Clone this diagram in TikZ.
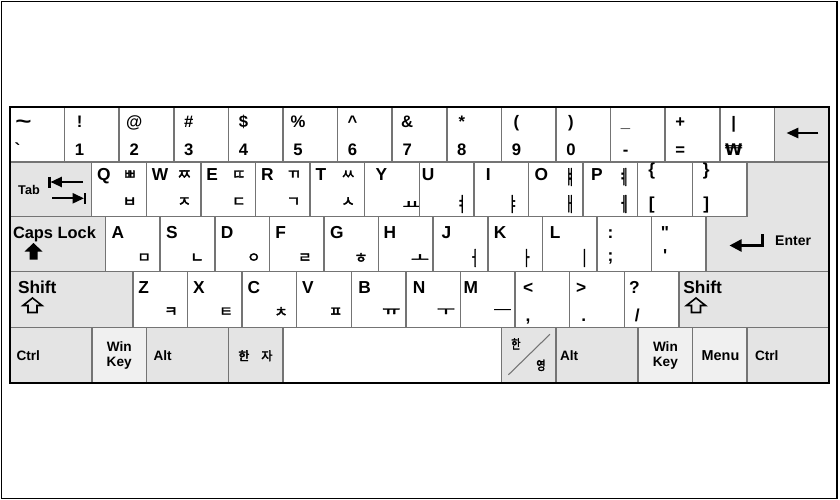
\documentclass[tikz,border=0pt]{standalone}
\usepackage{fontspec}
\usepackage{graphicx}
\setmainfont{Liberation Sans}
\newfontfamily\plainf{Liberation Sans}
\newfontfamily\kr{Noto Sans CJK KR}[FakeBold=2.5]
\newfontfamily\djf{DejaVu Sans}
\usetikzlibrary{arrows.meta}
\definecolor{keygray}{HTML}{E4E4E4}
\definecolor{keylight}{HTML}{F0F0F0}
\definecolor{keyline}{HTML}{747474}
\tikzset{
  key/.style={draw=keyline,line width=1.1pt,fill=white,anchor=north west,inner sep=0pt,outer sep=0pt},
  gkey/.style={key,fill=keygray},
  lkey/.style={key,fill=keylight},
  lbl/.style={inner sep=0pt,outer sep=0pt,text=black},
  num/.style={lbl,anchor=base,font=\bfseries\fontsize{12.5}{12.5}\selectfont},
  ltr/.style={lbl,anchor=base west,font=\bfseries\fontsize{13}{13}\selectfont},
  sym/.style={lbl,anchor=base,font=\bfseries\fontsize{13}{13}\selectfont},
  jm/.style={lbl,anchor=center,font=\kr\fontsize{11}{11}\selectfont},
  vw/.style={lbl,anchor=center,font=\kr\fontsize{15}{15}\selectfont},
  hv/.style={lbl,anchor=center,font=\kr\fontsize{15}{15}\selectfont},
  modl/.style={lbl,anchor=west,font=\bfseries\fontsize{10.2}{12.75}\selectfont},
  modc/.style={lbl,anchor=center,font=\bfseries\fontsize{10.2}{12.75}\selectfont},
  big/.style={lbl,anchor=base west,font=\bfseries\fontsize{13}{13}\selectfont},
  icon/.style={line width=1.6pt,black},
}
\newcommand\K[6][key]{\node[#1,minimum width=#5*0.75pt,minimum height=#6*0.75pt] (#2) at (#3,#4) {};}
\newcommand\Lb[5]{\node[#1] (#2) at ([shift={(#4)}]#3.north west) {#5};}
\newcommand\NV[1]{\scalebox{0.55}[1]{#1}}
\newcommand\FH[1]{\scalebox{1}[0.6]{#1}}
\begin{document}
\begin{tikzpicture}[x=0.75pt,y=-0.75pt]
\useasboundingbox (0,0) rectangle (840,500);
\node[draw=black,line width=0.8pt,anchor=north west,inner sep=0pt,outer sep=0pt,minimum width=835.8*0.75pt,minimum height=497*0.75pt] (frame) at (1.2,1.2) {};

% ---------- row 1 ----------
\K{r1k0}{10}{107}{54.6}{55}
\Lb{sym}{r1k0-t}{r1k0}{13.5,21}{\scalebox{1.6}[1.2]{\textasciitilde}}
\Lb{sym}{r1k0-b}{r1k0}{7.5,48}{{\plainf\bfseries\symbol{96}}}
\foreach \i/\t/\b in {1/!/1,2/@/2,3/\#/3,4/\$/4,5/\%/5,6/\textasciicircum/6,7/\&/7,8/*/8,9/(/9,10/)/0,11/\_/-,12/+/=}{
  \K{r1k\i}{10+54.6*\i}{107}{54.6}{55}
  \Lb{num}{r1k\i-t}{r1k\i}{15,20}{\t}
  \Lb{num}{r1k\i-b}{r1k\i}{15,48}{\b}
}
\K{r1k13}{719.8}{107}{54.6}{55}
\Lb{num}{r1k13-t}{r1k13}{14,21}{|}
\Lb{num}{r1k13-b}{r1k13}{14,48}{{\djf\bfseries\fontsize{12}{12}\selectfont ₩}}
\K[gkey]{bksp}{774.4}{107}{54.6}{55}
\draw[line width=2pt,-{Triangle[length=9pt,width=7.5pt]}] ([shift={(44,26)}]bksp.north west) -- ([shift={(12,26)}]bksp.north west);

% ---------- row 2 ----------
\K[gkey]{tab}{10}{162}{81.7}{54.7}
\Lb{lbl}{tab-l}{tab}{19,28}{\bfseries\fontsize{9.5}{9.5}\selectfont Tab}
\draw[icon,-{Triangle[length=8.5pt,width=7.5pt]}] (83,182) -- (50.5,182);
\draw[icon] (49.5,176.5) -- (49.5,187.5);
\draw[icon,-{Triangle[length=8.5pt,width=7.5pt]}] (52,198.3) -- (84,198.3);
\draw[icon] (85,193) -- (85,204);
\foreach \i/\l/\t/\b in {0/Q/ㅃ/ㅂ,1/W/ㅉ/ㅈ,2/E/ㄸ/ㄷ,3/R/ㄲ/ㄱ,4/T/ㅆ/ㅅ}{
  \K{r2k\i}{91.7+54.6*\i}{162}{54.6}{54.7}
  \Lb{ltr}{r2k\i-l}{r2k\i}{5.5,18}{\l}
  \Lb{jm}{r2k\i-t}{r2k\i}{38,13}{\t}
  \Lb{jm}{r2k\i-b}{r2k\i}{38,40}{\b}
}
\K{r2k5}{364.7}{162}{54.6}{54.7}
\Lb{ltr}{r2k5-l}{r2k5}{11,18}{Y}
\Lb{hv}{r2k5-b}{r2k5}{47,43}{\FH{ㅛ}}
\K{r2k6}{419.3}{162}{54.6}{54.7}
\Lb{ltr}{r2k6-l}{r2k6}{2.5,18}{U}
\Lb{vw}{r2k6-b}{r2k6}{42,42}{\NV{ㅕ}}
\K{r2k7}{473.9}{162}{54.6}{54.7}
\Lb{ltr}{r2k7-l}{r2k7}{12,18}{I}
\Lb{vw}{r2k7-b}{r2k7}{39,42}{\NV{ㅑ}}
\K{r2k8}{528.5}{162}{54.6}{54.7}
\Lb{ltr}{r2k8-l}{r2k8}{6,18}{O}
\Lb{vw}{r2k8-t}{r2k8}{41.5,15}{\NV{ㅒ}}
\Lb{vw}{r2k8-b}{r2k8}{41.5,42}{\NV{ㅐ}}
\K{r2k9}{583.1}{162}{54.6}{54.7}
\Lb{ltr}{r2k9-l}{r2k9}{8,18}{P}
\Lb{vw}{r2k9-t}{r2k9}{41,15}{\NV{ㅖ}}
\Lb{vw}{r2k9-b}{r2k9}{41,42}{\NV{ㅔ}}
\K{r2k10}{637.7}{162}{54.6}{54.7}
\Lb{sym}{r2k10-t}{r2k10}{14,13.5}{\{}
\Lb{sym}{r2k10-b}{r2k10}{14,47}{[}
\K{r2k11}{692.3}{162}{54.6}{54.7}
\Lb{sym}{r2k11-t}{r2k11}{14,13.5}{\}}
\Lb{sym}{r2k11-b}{r2k11}{14,47}{]}

% ---------- enter ----------
\filldraw[fill=keygray,draw=keyline,line width=1.1pt] (746.9,162) -- (829,162) -- (829,271.7) -- (706.2,271.7) -- (706.2,216.7) -- (746.9,216.7) -- cycle;
\coordinate (enter) at (706.2,216.7);
\Lb{lbl,anchor=base west}{enter-l}{enter}{69,28.3}{\bfseries\fontsize{10.5}{10.5}\selectfont Enter}
\draw[line width=1.8pt,-{Triangle[length=9pt,width=9pt]}] (762.5,234) -- (762.5,245.5) -- (729.5,245.5);

% ---------- row 3 ----------
\K[gkey]{caps}{10}{216.7}{95.6}{55}
\Lb{lbl,anchor=base west}{caps-l}{caps}{3,21.3}{\bfseries\fontsize{12.3}{12.3}\selectfont Caps Lock}
\fill[black] (33.5,243) -- (42.5,251.5) -- (37.5,251.5) -- (37.5,259.5) -- (29.5,259.5) -- (29.5,251.5) -- (24.5,251.5) -- cycle;
\foreach \i/\l/\j/\jx in {0/A/ㅁ/38.5,1/S/ㄴ/37,2/D/ㅇ/39,3/F/ㄹ/35.5,4/G/ㅎ/37}{
  \K{r3k\i}{105.6+54.6*\i}{216.7}{54.6}{55}
  \Lb{ltr}{r3k\i-l}{r3k\i}{6,21.3}{\l}
  \Lb{jm}{r3k\i-j}{r3k\i}{\jx,41.3}{\j}
}
\K{r3k5}{378.6}{216.7}{54.6}{55}
\Lb{ltr}{r3k5-l}{r3k5}{5,21.3}{H}
\Lb{hv}{r3k5-j}{r3k5}{41.5,41.5}{\FH{ㅗ}}
\K{r3k6}{433.2}{216.7}{54.6}{55}
\Lb{ltr}{r3k6-l}{r3k6}{8.5,21.3}{J}
\Lb{vw}{r3k6-j}{r3k6}{41,41.3}{\NV{ㅓ}}
\K{r3k7}{487.8}{216.7}{54.6}{55}
\Lb{ltr}{r3k7-l}{r3k7}{6,21.3}{K}
\Lb{vw}{r3k7-j}{r3k7}{39,41.3}{\NV{ㅏ}}
\K{r3k8}{542.4}{216.7}{54.6}{55}
\Lb{ltr}{r3k8-l}{r3k8}{7.5,21.3}{L}
\Lb{vw}{r3k8-j}{r3k8}{42,41.3}{\NV{ㅣ}}
\K{r3k9}{597}{216.7}{54.6}{55}
\Lb{sym}{r3k9-t}{r3k9}{13.5,21.3}{:}
\Lb{sym}{r3k9-b}{r3k9}{13.5,44.5}{;}
\K{r3k10}{651.6}{216.7}{54.6}{55}
\Lb{sym}{r3k10-t}{r3k10}{13.5,21.3}{{\plainf\bfseries\symbol{34}}}
\Lb{sym}{r3k10-b}{r3k10}{13.5,44.5}{{\plainf\bfseries\symbol{39}}}
\draw[keyline,line width=1.1pt] (706.2,216.7) -- (706.2,271.7);

% ---------- row 4 ----------
\K[gkey]{lshift}{10}{271.7}{122.9}{55.6}
\Lb{big}{lshift-l}{lshift}{8,21.3}{Shift}
\draw[line width=1.2pt,line join=miter] (32.5,298) -- (42,305.5) -- (37,305.5) -- (37,312.5) -- (28,312.5) -- (28,305.5) -- (23,305.5) -- cycle;
\foreach \i/\l/\j/\jx in {0/Z/ㅋ/38,1/X/ㅌ/38.5,2/C/ㅊ/39,3/V/ㅍ/39}{
  \K{r4k\i}{132.9+54.6*\i}{271.7}{54.6}{55.6}
  \Lb{ltr}{r4k\i-l}{r4k\i}{5.5,21.3}{\l}
  \Lb{jm}{r4k\i-j}{r4k\i}{\jx,40.3}{\j}
}
\foreach \i/\l/\j/\jx/\lx in {4/B/ㅠ/40/7,5/N/ㅜ/40/7,6/M/ㅡ/42/3}{
  \K{r4k\i}{132.9+54.6*\i}{271.7}{54.6}{55.6}
  \Lb{ltr}{r4k\i-l}{r4k\i}{\lx,21.3}{\l}
  \Lb{hv}{r4k\i-j}{r4k\i}{\jx,40}{\FH{\j}}
}
\K{r4k7}{515.1}{271.7}{54.6}{55.6}
\Lb{sym}{r4k7-t}{r4k7}{13,21.3}{<}
\Lb{sym}{r4k7-b}{r4k7}{13,49.5}{,}
\K{r4k8}{569.7}{271.7}{54.6}{55.6}
\Lb{sym}{r4k8-t}{r4k8}{11.5,21.3}{>}
\Lb{sym}{r4k8-b}{r4k8}{14,49.5}{.}
\K{r4k9}{624.3}{271.7}{54.6}{55.6}
\Lb{sym}{r4k9-t}{r4k9}{10,21.3}{?}
\Lb{sym}{r4k9-b}{r4k9}{13,49.5}{/}
\K[gkey]{rshift}{678.9}{271.7}{150.1}{55.6}
\Lb{big}{rshift-l}{rshift}{4.5,21.3}{Shift}
\draw[line width=1.2pt,line join=miter] (696,298) -- (705.5,305.5) -- (700.5,305.5) -- (700.5,312.5) -- (691.5,312.5) -- (691.5,305.5) -- (686.5,305.5) -- cycle;

% ---------- row 5 ----------
\K[gkey]{lctrl}{10}{327.3}{81.9}{55.7}
\Lb{modl}{lctrl-l}{lctrl}{6.5,28.2}{Ctrl}
\K[lkey]{lwin}{91.9}{327.3}{54.6}{55.7}
\Lb{modc}{lwin-l}{lwin}{27.3,28}{\begin{tabular}{@{}c@{}}Win\\[-1.5pt]Key\end{tabular}}
\K[gkey]{lalt}{146.5}{327.3}{81.9}{55.7}
\Lb{modl}{lalt-l}{lalt}{7,28.2}{Alt}
\K[gkey]{hanja}{228.4}{327.3}{54.6}{55.7}
\Lb{lbl}{hanja-l}{hanja}{27,28.5}{\kr\fontsize{9}{9}\selectfont 한\hspace{9pt}자}
\K{space}{283}{327.3}{218.4}{55.7}
\K[gkey]{hanyeong}{501.4}{327.3}{54.6}{55.7}
\draw[keyline,line width=0.8pt] ([shift={(7,47.5)}]hanyeong.north west) -- ([shift={(48.5,7)}]hanyeong.north west);
\Lb{lbl}{hanyeong-a}{hanyeong}{14.5,16.5}{\kr\fontsize{9.5}{9.5}\selectfont\scalebox{0.8}[1]{한}}
\Lb{lbl}{hanyeong-b}{hanyeong}{39.5,38}{\kr\fontsize{9.5}{9.5}\selectfont\scalebox{0.8}[1]{영}}
\K[gkey]{ralt}{556}{327.3}{81.9}{55.7}
\Lb{modl}{ralt-l}{ralt}{4,28.2}{Alt}
\K[lkey]{rwin}{637.9}{327.3}{54.6}{55.7}
\Lb{modc}{rwin-l}{rwin}{27.5,28}{\begin{tabular}{@{}c@{}}Win\\[-1.5pt]Key\end{tabular}}
\K[lkey]{menu}{692.5}{327.3}{54.6}{55.7}
\Lb{lbl}{menu-l}{menu}{28,28.2}{\bfseries\fontsize{10.8}{10.8}\selectfont Menu}
\K[gkey]{rctrl}{747.1}{327.3}{81.9}{55.7}
\Lb{modl}{rctrl-l}{rctrl}{8,28.2}{Ctrl}

% ---------- outer border ----------
\node[draw=black,line width=1.8pt,anchor=north west,inner sep=0pt,outer sep=0pt,minimum width=819*0.75pt,minimum height=276*0.75pt] (board) at (10,107) {};
\end{tikzpicture}
\end{document}
